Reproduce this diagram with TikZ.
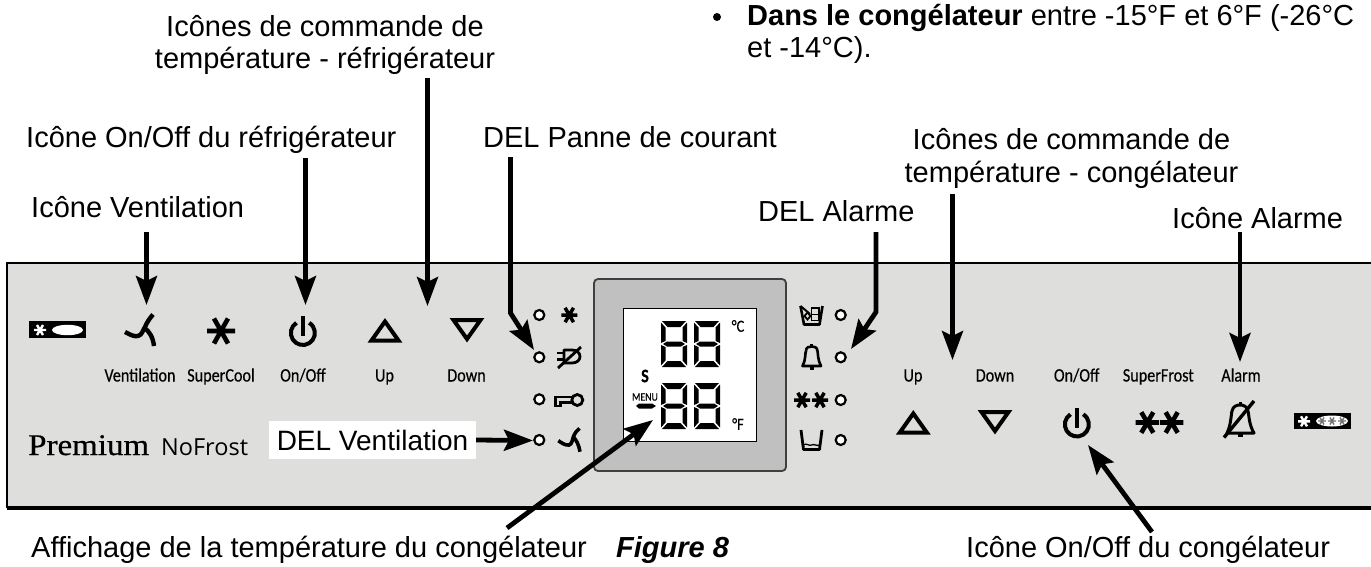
\documentclass[tikz,border=0pt]{standalone}
\usepackage{fontspec}
\usetikzlibrary{arrows.meta}
\setmainfont{Liberation Sans}
\newfontfamily\lblfont[FakeStretch=0.85,FakeBold=0.4]{Carlito}
\newfontfamily\nofrostfont{Open Sans}
\newfontfamily\premfont[FakeStretch=1.1,FakeBold=0.6]{Liberation Serif}
\definecolor{panelgray}{HTML}{DEDEDD}
\definecolor{framegray}{HTML}{C0C0C0}
\tikzset{
  x=1pt,y=-1pt,
  lab/.style={font=\fontsize{29}{34}\selectfont,inner sep=0pt,anchor=base west},
  ptr/.style={line width=4.8pt,-{Stealth[length=29pt,width=21pt,inset=5pt]},line join=miter},
  keylbl/.style={font=\lblfont\fontsize{19}{22}\selectfont,inner sep=0pt,anchor=base},
  ledmark/.style={circle,draw=black,fill=white,line width=2.2pt,minimum size=10pt,inner sep=0pt},
  small/.style={line width=2.6pt,black},
  pics/fan/.style={code={
    \draw[line width=4.4pt,black] (-16,1) .. controls (-11,3.5) and (-7,6) .. (-3,5) .. controls (1,4) and (2,-1) .. (4,-4) .. controls (6,-9) and (9,-13) .. (12,-16.5);
    \draw[line width=4.4pt,black] (3.5,-3) .. controls (8,0) and (12,6) .. (13,15);
  }},
  pics/smallfan/.style={code={
    \draw[line width=3.6pt,black] (-13.7,0.7) .. controls (-10,3) and (-7,5.5) .. (-3,5) .. controls (0,4.5) and (0.5,-1) .. (1.5,-3.5) .. controls (3,-7) and (5,-10) .. (7.5,-11.7);
    \draw[line width=3.6pt,black] (1,-3) .. controls (4,-1) and (7,5) .. (8,11.7);
  }},
  pics/star/.style={code={
    \draw[line width=4.6pt,black] (-14,0) -- (14,0) (-7,-12.5) -- (7,12.5) (7,-12.5) -- (-7,12.5);
  }},
  pics/midstar/.style={code={
    \draw[line width=4.6pt,black] (-11.7,0) -- (11.7,0) (-6,-10.3) -- (6,10.3) (6,-10.3) -- (-6,10.3);
  }},
  pics/tinystar/.style={code={
    \draw[line width=3.5pt,black] (-8,0) -- (8,0) (-4.2,-7.2) -- (4.2,7.2) (4.2,-7.2) -- (-4.2,7.2);
  }},
  pics/power/.style={code={
    \draw[line width=4pt,black] (-6.5,-10.2) arc[start angle=238,end angle=-58,radius=12];
    \draw[line width=4.6pt,black] (0,-17) -- (0,3);
  }},
  pics/uptri/.style={code={
    \draw[line width=4pt,black,line join=miter] (0,-21) -- (13.5,-2) -- (-13.5,-2) -- cycle;
  }},
  pics/downtri/.style={code={
    \draw[line width=4pt,black,line join=miter] (0,21) -- (13.5,2) -- (-13.5,2) -- cycle;
  }},
  pics/digit/.style={code={
    \fill[black] (1,0) -- (25,0) -- (19.5,6) -- (6.5,6) -- cycle;
    \fill[black] (1,46) -- (25,46) -- (19.5,40) -- (6.5,40) -- cycle;
    \fill[black] (0,1.5) -- (4.5,6.5) -- (4.5,20) -- (0,22) -- cycle;
    \fill[black] (26,1.5) -- (21.5,6.5) -- (21.5,20) -- (26,22) -- cycle;
    \fill[black] (0,24) -- (4.5,26) -- (4.5,39.5) -- (0,44.5) -- cycle;
    \fill[black] (26,24) -- (21.5,26) -- (21.5,39.5) -- (26,44.5) -- cycle;
    \fill[black] (2,23) -- (6,20.5) -- (20,20.5) -- (24,23) -- (20,25.5) -- (6,25.5) -- cycle;
    \draw[white,line width=0.8pt] (7,8.5) -- (19,8.5) (7,37.5) -- (19,37.5);
  }},
}
\begin{document}
\begin{tikzpicture}
\useasboundingbox (0,0) rectangle (1371,566);
\fill[white] (0,0) rectangle (1371,566);

% panel
\fill[panelgray] (7,263) rectangle (1371,508);
\draw[black,line width=2.6pt] (1371,263) -- (7,263) -- (7,508);
\draw[black,line width=3.4pt] (7,508) -- (1371,508);

% display
\node[draw=black!75,line width=1.8pt,fill=framegray,rounded corners=4pt,minimum width=192pt,minimum height=192pt,inner sep=0pt] (frame) at (690,375) {};
\node[draw=black,line width=1.3pt,fill=white,minimum width=133pt,minimum height=133pt,inner sep=0pt] (lcd) at (690,375) {};
\pic at (661,321) {digit};
\pic at (694,321) {digit};
\pic at (661,383) {digit};
\pic at (694,383) {digit};
\node[font=\lblfont\fontsize{17}{19}\selectfont,inner sep=0pt] (degc) at (738,326) {°C};
\node[font=\lblfont\fontsize{17}{19}\selectfont,inner sep=0pt] (degf) at (738,424) {°F};
\node[font=\lblfont\fontsize{19}{21}\selectfont\bfseries,inner sep=0pt] (sflag) at (645,376) {S};
\node[font=\lblfont\fontsize{11.5}{13}\selectfont,inner sep=0pt] (menu) at (645,397) {MENU};
\fill[black] (636,406) -- (639,403.5) -- (652,403.5) -- (656,406) -- (652,408.5) -- (639,408.5) -- cycle;

% left badge
\node[fill=black,minimum width=57pt,minimum height=17pt,inner sep=0pt] (badgeL) at (57.5,329.5) {};
\fill[white] (67.5,330) ellipse[x radius=15.5,y radius=5.2];
\draw[white,line width=2.4pt] (34,330) -- (46,330) (37,325) -- (43,335) (43,325) -- (37,335);

% left key icons
\pic at (141,331) {fan};
\pic at (221,331) {star};
\pic at (303,333) {power};
\pic at (385,342.5) {uptri};
\pic at (467,318) {downtri};
\node[keylbl] (kVent) at (140,381.5) {Ventilation};
\node[keylbl] (kCool) at (221,381.5) {SuperCool};
\node[keylbl] (kOnL) at (303,381.5) {On/Off};
\node[keylbl] (kUpL) at (384.5,381.5) {Up};
\node[keylbl] (kDownL) at (466.5,381.5) {Down};

% logo
\node[font=\premfont\fontsize{30}{34}\selectfont,inner sep=0pt,anchor=base west] (prem) at (28,455) {Premium};
\node[font=\nofrostfont\fontsize{23.5}{28}\selectfont,inner sep=0pt,anchor=base west] (nofrost) at (161,455) {NoFrost};
\node[fill=white,minimum width=207pt,minimum height=38pt,inner sep=0pt,font=\fontsize{28}{34}\selectfont] (delvent) at (372.5,440) {DEL Ventilation};

% LEDs left
\node[ledmark] (la) at (539.3,315) {};
\node[ledmark] (lb) at (539.3,357.3) {};
\node[ledmark] (lc) at (539.3,399.3) {};
\node[ledmark] (ld) at (539.3,440) {};
\pic at (569.3,315) {tinystar};
% crossed plug
\draw[small,line width=2.8pt,line join=round] (564,350) -- (572,350) .. controls (577,350) and (580,353) .. (580,356.5) .. controls (580,360) and (577,363) .. (572,363) -- (564,363) -- cycle;
\draw[small] (557,353) -- (564,353) (557,359.5) -- (564,359.5);
\draw[small,line width=2.8pt] (558,368) -- (581,347);
% key
\draw[small,line width=2.2pt] (572,397) -- (555.5,397) -- (555.5,406) -- (560.5,406) -- (560.5,402.5) -- (572,402.5);
\draw[small,line width=2.8pt] (577.3,400) circle[radius=5.5];
\pic at (572,440) {smallfan};

% LEDs right
\node[ledmark] (ra) at (840.7,315) {};
\node[ledmark] (rb) at (840.7,357.3) {};
\node[ledmark] (rc) at (840.7,400) {};
\node[ledmark] (rd) at (840.7,440) {};
% ice bucket
\draw[small,line join=round] (800.5,306) -- (804,324.5) -- (819.5,324.5) -- (822.5,306);
\draw[small,line width=2pt] (800.5,306) -- (810,314);
\draw[small,line width=1.8pt] (811.5,308) rectangle (819,314.5);
\draw[small,line width=1.8pt] (811.5,314.5) rectangle (819,320.5);
\draw[small,line width=1.8pt] (807.5,312.5) -- (810.5,316) -- (807.5,319.5) -- (804.5,316) -- cycle;
% bell
\draw[small,line join=round] (802.5,366) .. controls (806,360) and (805,352) .. (806,351) .. controls (806,347) and (809,346.5) .. (811.7,346.5) .. controls (814.5,346.5) and (817,347) .. (817.5,351) .. controls (818,352) and (817.5,360) .. (821,366) -- cycle;
\fill[black] (809.7,366) rectangle (813.7,369.5);
\fill[black] (810.2,344) rectangle (813.2,347);
% double star
\pic at (802,400) {tinystar};
\pic at (820,400) {tinystar};
% glass
\draw[small,line width=2.8pt,line join=round] (801,430) -- (803.5,449.5) -- (819.5,449.5) -- (822,430);
\draw[small,line width=1.3pt] (803,445) .. controls (807,442.5) and (809,446.5) .. (811.5,445) .. controls (814,443.5) and (817,446.5) .. (820,445);

% right key icons
\node[keylbl] (kUpR) at (913,381.5) {Up};
\node[keylbl] (kDownR) at (995,381.5) {Down};
\node[keylbl] (kOnR) at (1076.7,381.5) {On/Off};
\node[keylbl] (kFrost) at (1158.3,381.5) {SuperFrost};
\node[keylbl] (kAlarm) at (1241,381.5) {Alarm};
\pic at (913.3,434.5) {uptri};
\pic at (995,410) {downtri};
\pic at (1077,424.5) {power};
\pic at (1147.3,422.5) {midstar};
\pic at (1171.7,422.5) {midstar};
% crossed bell
\draw[line width=3pt,black,line join=round] (1227,433) .. controls (1231,425) and (1231,415) .. (1232,411) .. controls (1233,406) and (1237,405) .. (1240,405) .. controls (1243,405) and (1247,406) .. (1248,411) .. controls (1249,415) and (1249,425) .. (1254,433) -- cycle;
\fill[black] (1238,433) rectangle (1242.5,437);
\fill[black] (1238.5,402) rectangle (1242,406);
\draw[line width=3.4pt,black] (1224,437.5) -- (1254,401);
% right badge
\node[fill=black,minimum width=57pt,minimum height=15.5pt,inner sep=0pt] (badgeR) at (1322.5,421) {};
\fill[white] (1332,421) ellipse[x radius=16,y radius=5.5];
\draw[white,line width=2.4pt] (1298,421.3) -- (1310,421.3) (1301,416.3) -- (1307,426.3) (1307,416.3) -- (1301,426.3);
\foreach \sx in {1322,1332,1342}
  \draw[black!55,line width=1.4pt] (\sx-4,421) -- (\sx+4,421) (\sx-2,417.5) -- (\sx+2,424.5) (\sx+2,417.5) -- (\sx-2,424.5);

% bullet text
\fill[black] (717,17) circle[radius=4];
\node[lab] (bul1) at (747,25) {\textbf{Dans le congélateur} entre -15°F et 6°F (-26°C};
\node[lab] (bul2) at (747,57) {et -14°C).};

% labels
\node[lab,anchor=base] (lFridgeA) at (325,36) {Icônes de commande de};
\node[lab,anchor=base] (lFridgeB) at (325,68) {température - réfrigérateur};
\node[lab] (lOnFridge) at (26,147) {Icône On/Off du réfrigérateur};
\node[lab] (lVent) at (31,217) {Icône Ventilation};
\node[lab] (lPanne) at (483,147) {DEL Panne de courant};
\node[lab,anchor=base] (lFreezeA) at (1071.5,149) {Icônes de commande de};
\node[lab,anchor=base] (lFreezeB) at (1071.5,182) {température - congélateur};
\node[lab] (lAlarmLed) at (758,221) {DEL Alarme};
\node[lab] (lAlarmIcon) at (1172,228) {Icône Alarme};
\node[lab] (lDisplay) at (31,557) {Affichage de la température du congélateur};
\node[lab,font=\fontsize{29}{34}\selectfont\bfseries\itshape] (lFig) at (616,557) {Figure 8};
\node[lab] (lOnFreeze) at (966,557) {Icône On/Off du congélateur};

% connector ends
\coordinate (s1) at (146.5,232); \coordinate (t1) at (146.5,305);
\coordinate (s2) at (305.5,158); \coordinate (t2) at (305.5,305);
\coordinate (s3) at (427.5,78);  \coordinate (t3) at (427.5,306);
\coordinate (s4) at (510.5,157); \coordinate (b4) at (510.5,313); \coordinate (t4) at (534,350);
\coordinate (s5) at (876,232);   \coordinate (b5) at (876,312);   \coordinate (t5) at (851,349);
\coordinate (s6) at (952.5,194); \coordinate (t6) at (952.5,360);
\coordinate (s7) at (1240,232);  \coordinate (t7) at (1240,362);
\coordinate (t8) at (533,440.5);
\coordinate (s9) at (507,528);   \coordinate (t9) at (653,420);
\coordinate (s10) at (1152,532); \coordinate (t10) at (1088,445);

\draw[ptr] (s1) -- (t1);
\draw[ptr] (s2) -- (t2);
\draw[ptr] (s3) -- (t3);
\draw[ptr] (s4) -- (b4) -- (t4);
\draw[ptr] (s5) -- (b5) -- (t5);
\draw[ptr] (s6) -- (t6);
\draw[ptr] (s7) -- (t7);
\draw[ptr] (delvent.east) -- (t8);
\draw[ptr] (s9) -- (t9);
\draw[ptr] (s10) -- (t10);
\end{tikzpicture}
\end{document}
